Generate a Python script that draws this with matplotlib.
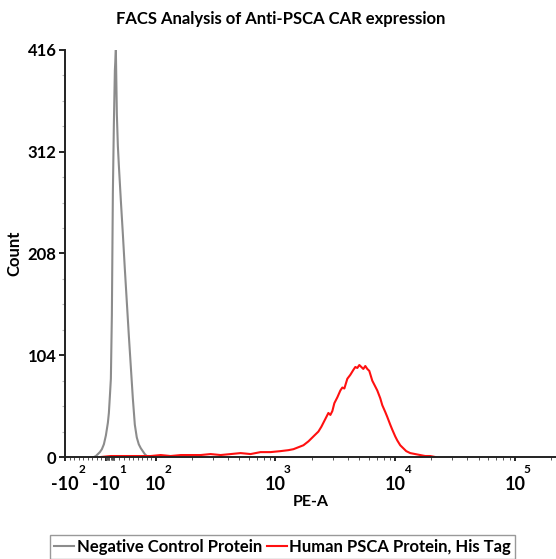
import numpy as np
import matplotlib
matplotlib.use("Agg")
import matplotlib.pyplot as plt
from matplotlib.ticker import FixedLocator

plt.rcParams['font.family'] = ['Lato', 'DejaVu Sans']
plt.rcParams['font.weight'] = 'bold'

# negative control protein (PE-A value, count)
ctrl_x = [-36.3, -31.9, -27.5, -23.1, -18.7, -14.3, -9.9, -5.5, -3.3, -1.1,
          1.1, 3.3, 5.5, 7.7, 9.9, 12.1, 14.3, 16.5, 18.7, 20.9, 23.1, 27.5,
          31.9, 36.3, 40.7, 45.1, 49.5, 53.9, 58.2, 62.6, 67.0, 71.4, 75.8,
          80.2, 84.6]
ctrl_y = [0, 1, 3, 5, 8, 13, 22, 35, 45, 62,
          80, 145, 270, 340, 395, 416, 350, 318, 298, 280, 262, 228,
          192, 158, 124, 92, 60, 33, 20, 13, 9, 6, 3,
          1, 0]

# human PSCA protein, His tag
psca_x = [-20.9, 1.1, 23.1, 45.1, 67.0, 89.0, 110, 133, 162, 196, 237, 287,
          348, 422, 511, 619, 750, 908, 1101, 1283, 1413, 1555, 1711, 1884,
          2034, 2154, 2282, 2418, 2512, 2661, 2765, 2873, 2985, 3101, 3285,
          3481, 3616, 3758, 3981, 4217, 4467, 4642, 4823, 5012, 5208, 5412,
          5623, 5843, 6072, 6431, 6813, 7079, 7499, 7792, 8254, 8577, 9087,
          9441, 10000, 10391, 11007, 11659, 12351, 13335, 14678, 16156,
          17783, 19573, 21544]
psca_y = [0, 1, 1, 1, 1, 1, 2, 1, 2, 2, 2, 3,
          2, 3, 4, 3, 5, 5, 6, 7, 8, 10, 12, 16,
          20, 23, 26, 31, 35, 41, 45, 43, 47, 55, 61,
          68, 71, 70, 80, 84, 89, 92, 91, 94, 92, 90,
          93, 90, 88, 78, 72, 68, 60, 53, 46, 41, 33,
          28, 21, 17, 12, 9, 6, 4, 3, 2,
          1, 1, 0]

y_ticks = [0, 104, 208, 312, 416]
x_ticks = [-100, -10, 100, 1000, 10000, 100000]
x_bases = ['-10', '-10', '10', '10', '10', '10']
x_exps = ['2', '1', '2', '3', '4', '5']

fig = plt.figure(figsize=(5.56, 5.59), dpi=100)
ax = fig.add_axes([65 / 556, 1 - 457 / 559, 491 / 556, 407 / 559])
# biexponential-like display: linear around zero, log beyond +-100
ax.set_xscale('symlog', linthresh=100, linscale=0.341)

ax.plot(ctrl_x, ctrl_y, color='#8c8c8c', lw=1.5, label='Negative Control Protein')
ax.plot(psca_x, psca_y, color='#ff1010', lw=1.5, label='Human PSCA Protein, His Tag')

ax.set_xlim(-100, 220000)
ax.set_ylim(0, 416)

ax.spines['top'].set_visible(False)
ax.spines['right'].set_visible(False)
for s in ('left', 'bottom'):
    ax.spines[s].set_linewidth(1.4)
    ax.spines[s].set_color('#222222')

ax.set_yticks(y_ticks)
ax.yaxis.set_minor_locator(FixedLocator(np.arange(0, 417, 26)))
ax.tick_params(axis='y', which='major', length=4, width=1.2, labelsize=12, pad=2)
ax.tick_params(axis='y', which='minor', length=2.5, width=0.8, color='#bbbbbb')

minor_x = []
for m in range(2, 10):
    minor_x += [-10 * m, -m, m, 10 * m]
    for k in (100, 1000, 10000, 100000):
        if m * k < 220000:
            minor_x.append(m * k)
ax.set_xticks(x_ticks)
ax.set_xticklabels(x_bases, fontweight='bold')
ax.xaxis.set_minor_locator(FixedLocator(sorted(minor_x)))
ax.tick_params(axis='x', which='major', length=3, width=1.2, labelsize=13, pad=11)
ax.tick_params(axis='x', which='minor', length=2, width=0.7, color='#555555')

# exponents sit up and to the right of each "10"
for t, b, e in zip(x_ticks, x_bases, x_exps):
    dx = 9.5 if b.startswith('-') else 6.0
    ax.annotate(e, xy=(t, 0), xycoords=('data', 'axes fraction'),
                xytext=(dx, -9), textcoords='offset points',
                ha='left', va='center', fontsize=8.5, fontweight='bold',
                annotation_clip=False)

ax.set_xlabel('PE-A', fontsize=11.5, fontweight='bold', labelpad=1)
ax.set_ylabel('Count', fontsize=12, fontweight='bold', labelpad=4)
ax.set_title('FACS Analysis of Anti-PSCA CAR expression', fontsize=12,
             fontweight='bold', pad=19, x=0.44)

fig.legend(loc='upper left', bbox_to_anchor=(50 / 556, 1 - 535 / 559), ncol=2,
           frameon=True, fancybox=False, edgecolor='#999999', framealpha=1,
           fontsize=12, handlelength=1.2, handletextpad=0.15,
           columnspacing=0.3, borderpad=0.25, borderaxespad=0)

fig.savefig('out.png', dpi=100)
